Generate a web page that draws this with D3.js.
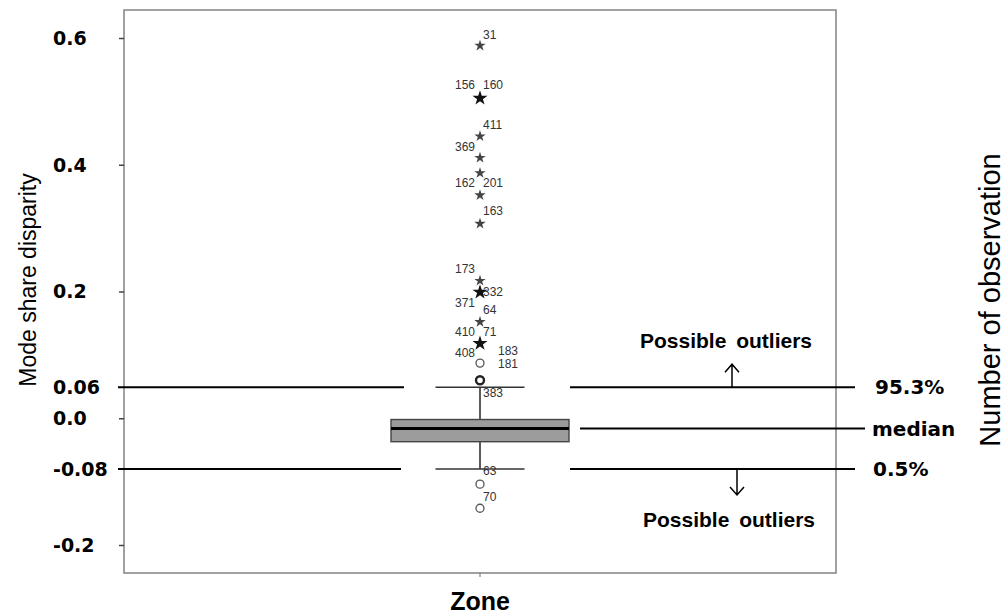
<!DOCTYPE html>
<html>
<head>
<meta charset="utf-8">
<script src="https://cdn.jsdelivr.net/npm/d3@7"></script>
<style>
  body { margin: 0; background: #fff; }
  svg { display: block; }
  .tick-label { font-family: "DejaVu Sans", sans-serif; font-weight: bold; font-size: 19px; fill: #000; }
  .point-label { font-family: "Liberation Sans", Arial, sans-serif; font-size: 12px; fill: #333; }
  .note { font-family: "DejaVu Sans", sans-serif; font-weight: bold; font-size: 20px; fill: #000; }
  .outlier-note { font-family: "Liberation Sans", Arial, sans-serif; font-weight: bold; font-size: 21px; fill: #000; word-spacing: 4px; }
</style>
</head>
<body>
<svg id="chart"></svg>
<script>
// Category and y ticks.
const categories = ['Zone'];
const yTicks = [0.6, 0.4, 0.2, 0.0, -0.2];
const yTickLabels = ['0.6', '0.4', '0.2', '0.06', '0.0', '-0.08', '-0.2'];
const yTickLabelValues = [0.6, 0.4, 0.2, 0.049, 0.0, -0.08, -0.2];

// Box statistics: lower whisker, q1, median, q3, upper whisker.
const boxStats = [-0.080, -0.037, -0.016, -0.002, 0.049];

// Outliers (extreme = star, mild = circle); bold = overlapping points.
const outlierValues = [0.588, 0.505, 0.445, 0.411, 0.387, 0.352, 0.307, 0.217, 0.199, 0.152, 0.118, 0.087, 0.060, -0.104, -0.142];
const outlierTypes = ['star', 'star', 'star', 'star', 'star', 'star', 'star', 'star', 'star', 'star', 'star', 'circle', 'circle', 'circle', 'circle'];
const outlierBold = [false, true, false, false, false, false, false, false, true, false, true, false, true, false, false];

// Case labels next to outliers.
const caseLabels = ['31', '156', '160', '411', '369', '162', '201', '163', '173', '332', '371', '64', '410', '71', '408', '183', '181', '383', '63', '70'];
const caseLabelValues = [0.606, 0.527, 0.527, 0.464, 0.428, 0.371, 0.371, 0.327, 0.236, 0.199, 0.183, 0.172, 0.136, 0.136, 0.103, 0.106, 0.086, 0.041, -0.083, -0.123];
const caseLabelSides = ['R', 'L', 'R', 'R', 'L', 'L', 'R', 'R', 'L', 'R', 'L', 'R', 'L', 'R', 'L', 'RR', 'RR', 'R', 'R', 'R'];

// Annotation texts on the right.
const upperNote = '95.3%';
const medianNote = 'median';
const lowerNote = '0.5%';
const outlierNote = 'Possible outliers';
const yTitle = 'Mode share disparity';
const rightTitle = 'Number of observation';

class BoxPlotChart {
  constructor(config) {
    this.config = config;
    this.width = config.width;
    this.height = config.height;
    this.svg = d3.select(config.element)
        .attr('width', this.width)
        .attr('height', this.height);
    this.drawChart();
  }

  drawChart() {
    this.initScales();
    this.drawFrame();
    this.drawAxis();
    this.drawReferenceLines();
    this.drawBox();
    this.drawOutliers();
    this.drawNotes();
  }

  initScales() {
    const f = this.config.frame;
    this.xScale = d3.scaleBand().domain(categories).range([f.left, f.right]);
    this.yScale = d3.scaleLinear().domain([-0.2, 0.6]).range([545, 38]);
    this.cx = this.xScale('Zone') + this.xScale.bandwidth() / 2;
  }

  drawFrame() {
    const f = this.config.frame;
    this.svg.append('rect')
        .attr('x', f.left)
        .attr('y', f.top)
        .attr('width', f.right - f.left)
        .attr('height', f.bottom - f.top)
        .attr('fill', 'none')
        .attr('stroke', '#8a8a8a')
        .attr('stroke-width', 1.6);
  }

  drawAxis() {
    const f = this.config.frame;
    const yAxis = this.svg.append('g')
        .attr('transform', `translate(${f.left},0)`)
        .call(d3.axisLeft(this.yScale).tickValues(yTicks).tickSize(5).tickFormat(''));
    yAxis.select('.domain').remove();
    yAxis.selectAll('line').attr('stroke', '#444').attr('stroke-width', 1.5);

    const xAxis = this.svg.append('g')
        .attr('transform', `translate(0,${f.bottom})`)
        .call(d3.axisBottom(this.xScale).tickSize(4).tickFormat(''));
    xAxis.select('.domain').remove();
    xAxis.selectAll('line').attr('stroke', '#666');

    this.svg.selectAll('.tick-label')
        .data(yTickLabels)
        .enter()
        .append('text')
        .attr('class', 'tick-label')
        .attr('x', 53)
        .attr('y', (d, i) => this.yScale(yTickLabelValues[i]))
        .attr('dy', '0.36em')
        .text((d) => d);

    this.svg.append('text')
        .attr('transform', 'translate(36,280) rotate(-90)')
        .attr('text-anchor', 'middle')
        .style('font-family', '"Liberation Sans", Arial, sans-serif')
        .style('font-size', '23px')
        .text(yTitle);

    this.svg.append('text')
        .attr('transform', 'translate(1000,300) rotate(-90)')
        .attr('text-anchor', 'middle')
        .style('font-family', '"Liberation Sans", Arial, sans-serif')
        .style('font-size', '29px')
        .text(rightTitle);

    this.svg.append('text')
        .attr('x', this.cx)
        .attr('y', 610)
        .attr('text-anchor', 'middle')
        .style('font-family', '"Liberation Sans", Arial, sans-serif')
        .style('font-weight', 'bold')
        .style('font-size', '25px')
        .text(categories[0]);
  }

  drawReferenceLines() {
    const y = this.yScale;
    const lines = [
      { v: boxStats[4], x1: 118, x2: 404 },
      { v: boxStats[4], x1: 570, x2: 855 },
      { v: boxStats[0], x1: 118, x2: 401 },
      { v: boxStats[0], x1: 570, x2: 855 },
      { v: boxStats[2], x1: 580, x2: 865 }
    ];
    this.svg.selectAll('.ref-line')
        .data(lines)
        .enter()
        .append('line')
        .attr('class', 'ref-line')
        .attr('x1', (d) => d.x1)
        .attr('x2', (d) => d.x2)
        .attr('y1', (d) => y(d.v))
        .attr('y2', (d) => y(d.v))
        .attr('stroke', '#000')
        .attr('stroke-width', 2);
  }

  drawBox() {
    const y = this.yScale;
    const cx = this.cx;
    const half = 89;
    const cap = 44.5;
    const g = this.svg.append('g');

    g.append('line')
        .attr('x1', cx).attr('x2', cx)
        .attr('y1', y(boxStats[4])).attr('y2', y(boxStats[0]))
        .attr('stroke', '#333').attr('stroke-width', 1.6);

    [boxStats[0], boxStats[4]].forEach((v) => {
      g.append('line')
          .attr('x1', cx - cap).attr('x2', cx + cap)
          .attr('y1', y(v)).attr('y2', y(v))
          .attr('stroke', '#333').attr('stroke-width', 1.6);
    });

    g.append('rect')
        .attr('x', cx - half)
        .attr('y', y(boxStats[3]))
        .attr('width', half * 2)
        .attr('height', y(boxStats[1]) - y(boxStats[3]))
        .attr('fill', '#9c9c9c')
        .attr('stroke', '#444')
        .attr('stroke-width', 1.4);

    g.append('line')
        .attr('x1', cx - half).attr('x2', cx + half)
        .attr('y1', y(boxStats[2])).attr('y2', y(boxStats[2]))
        .attr('stroke', '#000').attr('stroke-width', 3);
  }

  drawOutliers() {
    const y = this.yScale;
    const cx = this.cx;
    const star = d3.symbol().type(d3.symbolStar);

    outlierValues.forEach((v, i) => {
      if (outlierTypes[i] === 'star') {
        this.svg.append('path')
            .attr('d', star.size(outlierBold[i] ? 70 : 40)())
            .attr('transform', `translate(${cx},${y(v)})`)
            .attr('fill', outlierBold[i] ? '#111' : '#444');
      } else {
        this.svg.append('circle')
            .attr('cx', cx)
            .attr('cy', y(v))
            .attr('r', 4)
            .attr('fill', 'none')
            .attr('stroke', outlierBold[i] ? '#222' : '#555')
            .attr('stroke-width', outlierBold[i] ? 2.4 : 1.3);
      }
    });

    this.svg.selectAll('.point-label')
        .data(caseLabels)
        .enter()
        .append('text')
        .attr('class', 'point-label')
        .attr('x', (d, i) => caseLabelSides[i] === 'L' ? cx - 5 : (caseLabelSides[i] === 'RR' ? cx + 18 : cx + 3))
        .attr('y', (d, i) => y(caseLabelValues[i]))
        .attr('dy', '0.36em')
        .attr('text-anchor', (d, i) => caseLabelSides[i] === 'L' ? 'end' : 'start')
        .text((d) => d);
  }

  drawNotes() {
    const y = this.yScale;
    const notes = [
      { t: upperNote, v: boxStats[4], x: 875 },
      { t: medianNote, v: boxStats[2], x: 872 },
      { t: lowerNote, v: boxStats[0], x: 873 }
    ];
    this.svg.selectAll('.note')
        .data(notes)
        .enter()
        .append('text')
        .attr('class', 'note')
        .attr('x', (d) => d.x)
        .attr('y', (d) => y(d.v))
        .attr('dy', '0.36em')
        .text((d) => d.t);

    const upY = y(boxStats[4]);
    const lowY = y(boxStats[0]);
    this.svg.append('text')
        .attr('class', 'outlier-note')
        .attr('x', 726).attr('y', upY - 47).attr('dy', '0.36em')
        .attr('text-anchor', 'middle')
        .text(outlierNote);
    this.svg.append('text')
        .attr('class', 'outlier-note')
        .attr('x', 729).attr('y', lowY + 50).attr('dy', '0.36em')
        .attr('text-anchor', 'middle')
        .text(outlierNote);

    const arrow = (x, y1, y2) => {
      const dir = y2 < y1 ? 1 : -1;
      this.svg.append('path')
          .attr('d', `M${x},${y1}L${x},${y2}M${x - 7},${y2 + dir * 8}L${x},${y2}L${x + 7},${y2 + dir * 8}`)
          .attr('fill', 'none')
          .attr('stroke', '#000')
          .attr('stroke-width', 1.5);
    };
    arrow(732, upY, upY - 23);
    arrow(737, lowY, lowY + 26);
  }
}

new BoxPlotChart({
  element: '#chart',
  width: 1007,
  height: 616,
  frame: { left: 124, right: 836, top: 10, bottom: 573 }
});
</script>
</body>
</html>
